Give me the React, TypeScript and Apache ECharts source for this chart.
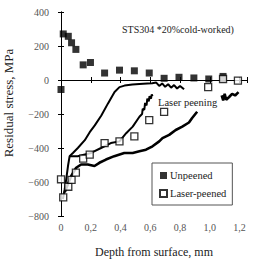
import React, { useEffect, useRef } from "react";
import * as echarts from "echarts";

// Surface-layer residual stress, STS304 (20% cold-worked)
const unpeenedDepth = [0.0, 0.015, 0.049, 0.071, 0.1, 0.149, 0.198, 0.293, 0.393, 0.493, 0.593, 0.693, 0.793, 0.893, 0.993, 1.089];
const unpeenedStress = [-56, 271, 257, 219, 180, 89, 103, 41, 58, 54, 41, 10, 16, 12, 6, 21];

const peenedDepth = [0.0, 0.015, 0.049, 0.071, 0.1, 0.149, 0.193, 0.293, 0.393, 0.493, 0.593, 0.693, 0.989, 1.089, 1.189];
const peenedStress = [-584, -690, -628, -587, -545, -462, -439, -371, -361, -332, -236, -187, -42, 6, -4];

// Continuous profiles of the laser-peened specimens
const profileADepth = [0.013, 0.025, 0.035, 0.047, 0.058, 0.08, 0.113, 0.16, 0.193, 0.227, 0.271, 0.315, 0.36, 0.393, 0.427, 0.48, 0.527, 0.58, 0.613, 0.64, 0.66, 0.68, 0.7, 0.72, 0.74, 0.76, 0.78, 0.8, 0.827];
const profileAStress = [-700, -642, -584, -506, -448, -429, -400, -354, -307, -267, -209, -139, -71, -42, -33, -27, -23, -20, -19, -15, -35, -20, -40, -25, -45, -30, -50, -35, -55];

const profileBDepth = [0.058, 0.113, 0.202, 0.269, 0.335, 0.393, 0.438, 0.482, 0.527, 0.545, 0.549, 0.56, 0.565, 0.575, 0.58, 0.59, 0.595, 0.605, 0.61, 0.615];
const profileBStress = [-448, -448, -429, -400, -371, -361, -313, -274, -216, -200, -170, -175, -135, -150, -110, -125, -95, -110, -85, -95];

const profileCDepth = [0.025, 0.069, 0.102, 0.135, 0.18, 0.225, 0.258, 0.302, 0.358, 0.425, 0.482, 0.527, 0.571, 0.615, 0.66, 0.682, 0.727, 0.771, 0.815, 0.86, 0.88, 0.915, null, 1.08, 1.09, 1.1, 1.11, 1.13, 1.15, 1.17, 1.193];
const profileCStress = [-661, -564, -516, -497, -497, -506, -487, -468, -448, -429, -429, -419, -410, -390, -361, -342, -323, -294, -274, -250, -225, -187, null, -91, -120, -81, -116, -100, -81, -91, -71];

const xTicks = [0, 0.2, 0.4, 0.6, 0.8, 1.0, 1.2];

const pairs = (xs: (number | null)[], ys: (number | null)[]) =>
  xs.map((x, i) => (x === null || ys[i] === null ? [null, null] : [x, ys[i]]));

const SERIF = "'Liberation Serif', 'DejaVu Serif', serif";

export default function App() {
  const ref = useRef<HTMLDivElement>(null);

  useEffect(() => {
    if (!ref.current) return;
    const chart = echarts.init(ref.current, null, { renderer: "svg" });

    const profileLine = (name: string, xs: (number | null)[], ys: (number | null)[], width: number) => ({
      name,
      type: "line",
      data: pairs(xs, ys),
      showSymbol: false,
      symbol: "none",
      connectNulls: false,
      lineStyle: { color: "#000", width },
      z: 2,
      silent: true,
    });

    chart.setOption({
      animation: false,
      backgroundColor: "#fff",
      grid: { left: 61, right: 10, top: 12, bottom: 44 },
      legend: {
        data: [
          { name: "Unpeened", icon: "rect" },
          { name: "Laser-peened", icon: "rect" },
        ],
        orient: "vertical",
        left: 152,
        top: 163,
        itemWidth: 7,
        itemHeight: 7,
        itemGap: 7,
        padding: [7, 6, 6, 7],
        borderColor: "#555",
        borderWidth: 1,
        backgroundColor: "#fff",
        textStyle: { fontFamily: SERIF, fontSize: 10.5, color: "#222", padding: [0, 0, 0, -2] },
      },
      xAxis: [
        {
          type: "value",
          min: 0,
          max: 1.25,
          interval: 0.2,
          name: "Depth from surface, mm",
          nameLocation: "middle",
          nameGap: 30,
          nameTextStyle: { fontFamily: SERIF, fontSize: 12, color: "#222" },
          axisLine: { show: true, lineStyle: { color: "#000", width: 1 } },
          axisTick: { show: true, inside: true, length: 3, lineStyle: { color: "#000" } },
          axisLabel: {
            margin: 6,
            fontFamily: SERIF,
            fontSize: 10,
            color: "#555",
            formatter: (v: number) => {
              const t = xTicks.find((k) => Math.abs(k - v) < 1e-6);
              if (t === undefined) return "";
              return t === 0 ? "0" : t.toFixed(1).replace(".", ",");
            },
          },
          splitLine: { show: false },
        },
        {
          type: "value",
          position: "top",
          min: 0,
          max: 1.25,
          interval: 0.2,
          axisLine: { show: true, lineStyle: { color: "#000", width: 1 } },
          axisTick: { show: true, inside: true, length: 3, lineStyle: { color: "#000" } },
          axisLabel: { show: false },
          splitLine: { show: false },
        },
      ],
      yAxis: [
        {
          type: "value",
          min: -800,
          max: 400,
          interval: 200,
          axisLine: { show: true, lineStyle: { color: "#000", width: 1 } },
          axisTick: { show: true, inside: true, length: 3, lineStyle: { color: "#000" } },
          axisLabel: {
            margin: 12,
            fontFamily: SERIF,
            fontSize: 10,
            color: "#555",
            formatter: (v: number) => (v < 0 ? "\u2212" + Math.abs(v) : String(v)),
          },
          splitLine: { show: false },
        },
        {
          type: "value",
          position: "right",
          min: -800,
          max: 400,
          interval: 200,
          axisLine: { show: true, lineStyle: { color: "#000", width: 1 } },
          axisTick: { show: true, inside: true, length: 3, lineStyle: { color: "#000" } },
          axisLabel: { show: false },
          splitLine: { show: false },
        },
      ],
      graphic: [
        {
          type: "text",
          x: 8,
          y: 103,
          rotation: Math.PI / 2,
          style: {
            text: "Residual stress, MPa",
            fontFamily: SERIF,
            fontSize: 13,
            fill: "#222",
            textAlign: "center",
            textVerticalAlign: "middle",
          },
        },
        {
          type: "text",
          left: 122,
          top: 24,
          style: { text: "STS304 *20%cold-worked)", fontFamily: SERIF, fontSize: 10, fill: "#222" },
        },
        {
          type: "text",
          left: 158,
          top: 97,
          style: { text: "Laser peening", fontFamily: SERIF, fontSize: 10.5, fill: "#222" },
        },
      ],
      series: [
        profileLine("profile A", profileADepth, profileAStress, 2),
        profileLine("profile B", profileBDepth, profileBStress, 2),
        profileLine("profile C", profileCDepth, profileCStress, 2.6),
        {
          name: "Unpeened",
          type: "scatter",
          data: pairs(unpeenedDepth, unpeenedStress),
          symbol: "rect",
          symbolSize: 7,
          itemStyle: { color: "#000" },
          z: 4,
          markLine: {
            silent: true,
            symbol: "none",
            label: { show: false },
            lineStyle: { color: "#000", width: 1, type: "solid" },
            data: [{ yAxis: 0 }],
          },
        },
        {
          name: "Laser-peened",
          type: "scatter",
          data: pairs(peenedDepth, peenedStress),
          symbol: "rect",
          symbolSize: 7,
          itemStyle: { color: "#fff", borderColor: "#000", borderWidth: 1.3 },
          z: 5,
        },
      ],
    });

    return () => chart.dispose();
  }, []);

  return (
    <div
      ref={ref}
      style={{ position: "fixed", left: 0, top: 0, width: 257, height: 263, background: "#fff" }}
    />
  );
}
